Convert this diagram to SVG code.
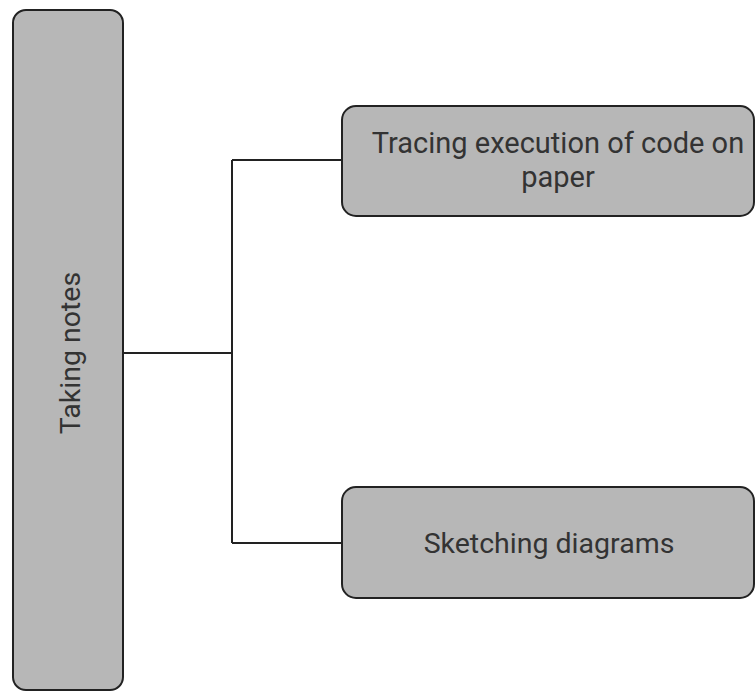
<svg xmlns="http://www.w3.org/2000/svg" width="756" height="691" viewBox="0 0 756 691">
<style>
.node{fill:#b7b7b7;stroke:#222;stroke-width:2}
.lbl{font-family:Roboto,"Liberation Sans",sans-serif;font-size:28.5px;fill:#333;text-anchor:middle}
.conn{fill:none;stroke:#222;stroke-width:2}
</style>
<rect width="756" height="691" fill="#fff"/>
<g id="connectors">
<path class="conn" d="M123 353H232M232 160V543M232 160H342M232 543H342"/>
</g>
<g id="taking-notes">
<rect class="node" x="13" y="10" width="110" height="680" rx="13"/>
<text class="lbl" transform="translate(80 353) rotate(-90)">Taking notes</text>
</g>
<g id="tracing">
<rect class="node" x="342" y="106" width="412" height="110" rx="14"/>
<text class="lbl" x="558" y="153" style="font-size:29px">Tracing execution of code on</text>
<text class="lbl" x="558" y="187" style="font-size:29px">paper</text>
</g>
<g id="sketching">
<rect class="node" x="342" y="487" width="412" height="111" rx="14"/>
<text class="lbl" x="549" y="553">Sketching diagrams</text>
</g>
</svg>
